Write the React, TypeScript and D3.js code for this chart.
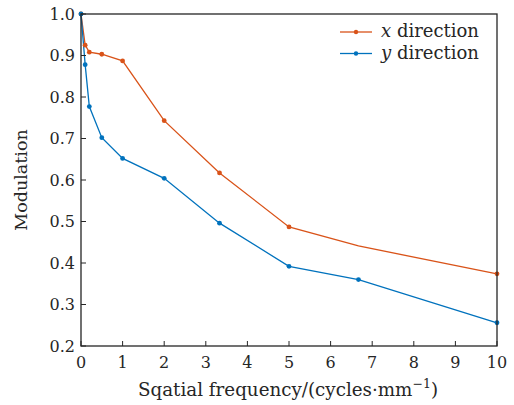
import React from "react";
import * as d3 from "d3";

const freqX = [0, 0.1, 0.2, 0.5, 1, 2, 3.33, 5, 6.67, 10];
const modX = [1.0, 0.925, 0.908, 0.903, 0.887, 0.743, 0.617, 0.487, 0.441, 0.374];
const markX = [true, true, true, true, true, true, true, true, false, true];
const freqY = [0, 0.1, 0.2, 0.5, 1, 2, 3.33, 5, 6.67, 10];
const modY = [1.0, 0.878, 0.777, 0.702, 0.652, 0.604, 0.496, 0.392, 0.360, 0.256];
const xTicks = [0, 1, 2, 3, 4, 5, 6, 7, 8, 9, 10];
const yTicks = [0.2, 0.3, 0.4, 0.5, 0.6, 0.7, 0.8, 0.9, 1.0];
const colorX = "#D95319";
const colorY = "#0072BD";

const W = 514, H = 405;
const L = 81, R = 497, T = 14, B = 346;
const font = "DejaVu Serif";

export default function App() {
  const x = d3.scaleLinear().domain([0, 10]).range([L, R]);
  const y = d3.scaleLinear().domain([0.2, 1.0]).range([B, T]);
  const line = d3.line<[number, number]>().x(d => x(d[0])).y(d => y(d[1]));
  const ptsX: [number, number][] = freqX.map((f, i) => [f, modX[i]]);
  const ptsY: [number, number][] = freqY.map((f, i) => [f, modY[i]]);
  return (
    <svg width={W} height={H} style={{ position: "absolute", left: 0, top: 0, fontFamily: font }}>
      <rect x={0} y={0} width={W} height={H} fill="#fff" />
      <path d={line(ptsX) || ""} fill="none" stroke={colorX} strokeWidth={1.3} />
      <path d={line(ptsY) || ""} fill="none" stroke={colorY} strokeWidth={1.3} />
      {ptsX.map((p, i) => markX[i] ? <circle key={"x" + i} cx={x(p[0])} cy={y(p[1])} r={2.4} fill={colorX} /> : null)}
      {ptsY.map((p, i) => <circle key={"y" + i} cx={x(p[0])} cy={y(p[1])} r={2.4} fill={colorY} />)}
      <rect x={L} y={T} width={R - L} height={B - T} fill="none" stroke="#262626" strokeWidth={1.3} />
      {xTicks.map(t => (
        <g key={"xt" + t}>
          <line x1={x(t)} x2={x(t)} y1={B} y2={B - 5} stroke="#262626" strokeWidth={1} />
          <text x={x(t)} y={B + 22} textAnchor="middle" fontSize={16} fill="#262626">{t}</text>
        </g>
      ))}
      {yTicks.map(t => (
        <g key={"yt" + t}>
          <line x1={L} x2={L + 5} y1={y(t)} y2={y(t)} stroke="#262626" strokeWidth={1} />
          <text x={L - 6} y={y(t) + 5.5} textAnchor="end" fontSize={16} fill="#262626">{t.toFixed(1)}</text>
        </g>
      ))}
      <text x={288} y={396} textAnchor="middle" fontSize={18.3} fill="#262626">
        Sqatial frequency/(cycles·mm<tspan dy={-8} fontSize={12.5}>−1</tspan><tspan dy={8}>)</tspan>
      </text>
      <text transform={`translate(27,${(T + B) / 2}) rotate(-90)`} textAnchor="middle" fontSize={17.5} fill="#262626">Modulation</text>
      <g>
        <line x1={340} x2={372} y1={32} y2={32} stroke={colorX} strokeWidth={1.3} />
        <circle cx={356} cy={32} r={2.2} fill={colorX} />
        <text x={381} y={37} fontSize={18} fill="#262626"><tspan fontStyle="italic">x</tspan> direction</text>
        <line x1={340} x2={372} y1={53.5} y2={53.5} stroke={colorY} strokeWidth={1.3} />
        <circle cx={356} cy={53.5} r={2.2} fill={colorY} />
        <text x={381} y={58.5} fontSize={18} fill="#262626"><tspan fontStyle="italic">y</tspan> direction</text>
      </g>
    </svg>
  );
}
